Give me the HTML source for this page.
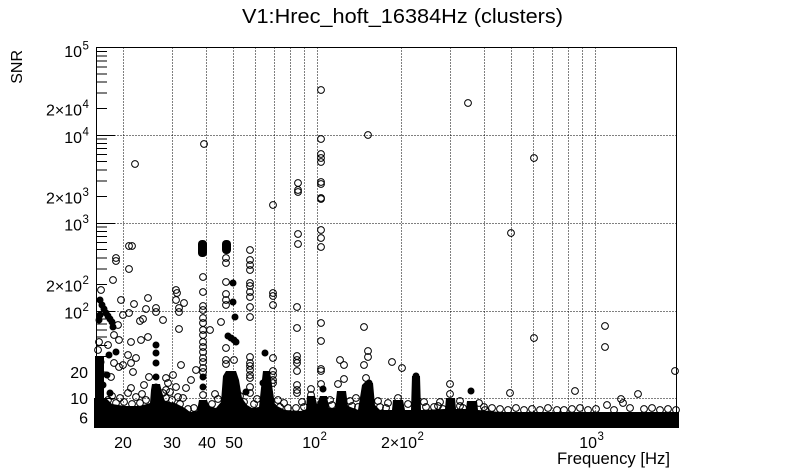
<!DOCTYPE html>
<html><head><meta charset="utf-8"><style>
html,body{margin:0;padding:0;background:#fff;}
svg{display:block;font-family:"Liberation Sans",Arial,sans-serif;}
</style></head><body>
<svg width="805" height="472" viewBox="0 0 805 472" xmlns="http://www.w3.org/2000/svg">
<rect width="805" height="472" fill="#fff"/>
<!-- title -->
<text x="402.5" y="23" font-size="20" text-anchor="middle" textLength="321" lengthAdjust="spacingAndGlyphs">V1:Hrec_hoft_16384Hz (clusters)</text>
<!-- grid -->
<g stroke="#000" stroke-width="1" stroke-dasharray="1 2" fill="none">
<path d="M123.5,47.5V424.5M172.5,47.5V424.5M206.5,47.5V424.5M233.5,47.5V424.5M255.5,47.5V424.5M274.5,47.5V424.5M290.5,47.5V424.5M304.5,47.5V424.5M317.5,47.5V424.5M401.5,47.5V424.5M450.5,47.5V424.5M484.5,47.5V424.5M511.5,47.5V424.5M533.5,47.5V424.5M552.5,47.5V424.5M568.5,47.5V424.5M582.5,47.5V424.5M595.5,47.5V424.5"/>
<path d="M96.5,135.5H676.5M96.5,223.5H676.5M96.5,311.5H676.5M96.5,398.5H676.5"/>
</g>
<!-- dense band and columns -->
<path fill="#000" d="M94,428 L94,398 L106,398 L112,404 L125,406 L140,406 L150,403 L151,390 L152,384 L160,384 L162,392 L165,401 L175,403 L185,408 L190,412 L197,411 L199,400 L207,400 L209,406 L216,408 L221,402 L223,376 L226,371 L236,371 L239,380 L242,398 L247,405 L252,408 L259,407 L261,388 L263,371 L270,371 L272,385 L275,405 L285,410 L300,411 L306,410 L307,396 L315,396 L317,404 L320,396 L327,396 L329,408 L335,408 L337,391 L346,391 L348,406 L358,410 L362,385 L366,381 L373,383 L375,405 L380,410 L392,410 L393,400 L403,400 L405,410 L411,410 L412,376 L420,376 L421,410 L445,409 L446,398 L455,398 L456,409 L466,409 L467,401 L477,401 L478,410 L500,412 L679,412 L679,428 Z"/>
<rect x="95" y="356" width="9" height="44" fill="#000"/>
<rect x="198" y="240" width="9" height="17" rx="4" fill="#000"/>
<rect x="222" y="240" width="9" height="14" rx="4" fill="#000"/>
<!-- filled markers -->
<g fill="#000">
<circle cx="100" cy="300" r="3.5"/><circle cx="102" cy="305" r="3.5"/><circle cx="104" cy="309" r="3.5"/><circle cx="106" cy="313" r="3.5"/><circle cx="108" cy="316" r="3.5"/><circle cx="110" cy="319" r="3.5"/><circle cx="112" cy="322" r="3.5"/><circle cx="113" cy="327" r="3.5"/><circle cx="100" cy="315" r="3.5"/><circle cx="99" cy="320" r="3.5"/>
<circle cx="101" cy="362" r="3.5"/><circle cx="99" cy="373" r="3.5"/><circle cx="107" cy="375" r="3.5"/><circle cx="103" cy="385" r="3.5"/><circle cx="110" cy="393" r="3.5"/><circle cx="116" cy="352" r="3.5"/><circle cx="109" cy="355" r="3.5"/>
<circle cx="156" cy="345" r="3.5"/><circle cx="156" cy="353" r="3.5"/><circle cx="156" cy="363" r="3.5"/><circle cx="156" cy="377" r="3.5"/><circle cx="156" cy="387" r="3.5"/>
<circle cx="233" cy="283" r="3.5"/><circle cx="233" cy="302" r="3.5"/><circle cx="235" cy="317" r="3.5"/><circle cx="228" cy="336" r="3.5"/><circle cx="231" cy="338" r="3.5"/><circle cx="234" cy="340" r="3.5"/><circle cx="236" cy="342" r="3.5"/>
<circle cx="265" cy="353" r="3.5"/><circle cx="323" cy="389" r="3.5"/><circle cx="471" cy="391" r="3.5"/><circle cx="203" cy="387" r="3.5"/><circle cx="203" cy="377" r="3.5"/><circle cx="246" cy="392" r="3.5"/><circle cx="263" cy="383" r="3.5"/><circle cx="416" cy="376" r="3.5"/><circle cx="369" cy="383" r="3.5"/>
</g>
<!-- open markers -->
<g fill="none" stroke="#000" stroke-width="1">
<circle cx="135" cy="164" r="3.4"/><circle cx="204" cy="144" r="3.4"/><circle cx="273" cy="205" r="3.4"/><circle cx="321" cy="90" r="3.4"/><circle cx="368" cy="135" r="3.4"/><circle cx="468" cy="103" r="3.4"/><circle cx="534" cy="158" r="3.4"/><circle cx="511" cy="233" r="3.4"/>
<circle cx="321" cy="139" r="3.4"/><circle cx="321" cy="154" r="3.4"/><circle cx="321" cy="158" r="3.4"/><circle cx="321" cy="162" r="3.4"/><circle cx="321" cy="182" r="3.4"/><circle cx="321" cy="184" r="3.4"/><circle cx="321" cy="198" r="3.4"/><circle cx="321" cy="199" r="3.4"/><circle cx="321" cy="230" r="3.4"/><circle cx="321" cy="238" r="3.4"/><circle cx="321" cy="247" r="3.4"/>
<circle cx="298" cy="183" r="3.4"/><circle cx="298" cy="190" r="3.4"/><circle cx="298" cy="192" r="3.4"/><circle cx="298" cy="234" r="3.4"/><circle cx="298" cy="244" r="3.4"/>
<circle cx="129" cy="246" r="3.4"/><circle cx="132" cy="246" r="3.4"/><circle cx="116" cy="258" r="3.4"/><circle cx="116" cy="261" r="3.4"/><circle cx="129" cy="269" r="3.4"/><circle cx="113" cy="280" r="3.4"/><circle cx="101" cy="290" r="3.4"/>
<circle cx="250" cy="250" r="3.4"/><circle cx="250" cy="260" r="3.4"/><circle cx="250" cy="265" r="3.4"/><circle cx="250" cy="270" r="3.4"/><circle cx="250" cy="283" r="3.4"/><circle cx="250" cy="286" r="3.4"/><circle cx="250" cy="292" r="3.4"/><circle cx="250" cy="297" r="3.4"/><circle cx="250" cy="307" r="3.4"/><circle cx="250" cy="317" r="3.4"/>
<circle cx="226" cy="258" r="3.4"/><circle cx="226" cy="263" r="3.4"/><circle cx="226" cy="282" r="3.4"/><circle cx="226" cy="294" r="3.4"/><circle cx="226" cy="300" r="3.4"/><circle cx="226" cy="305" r="3.4"/>
<circle cx="203" cy="277" r="3.4"/><circle cx="203" cy="292" r="3.4"/><circle cx="203" cy="306" r="3.4"/><circle cx="203" cy="310" r="3.4"/>
<circle cx="273" cy="293" r="3.4"/><circle cx="273" cy="296" r="3.4"/><circle cx="273" cy="305" r="3.4"/>
<circle cx="297" cy="307" r="3.4"/><circle cx="297" cy="328" r="3.4"/><circle cx="297" cy="356" r="3.4"/><circle cx="297" cy="360" r="3.4"/><circle cx="297" cy="363" r="3.4"/><circle cx="297" cy="371" r="3.4"/><circle cx="297" cy="385" r="3.4"/><circle cx="297" cy="390" r="3.4"/><circle cx="297" cy="393" r="3.4"/>
<circle cx="273" cy="358" r="3.4"/><circle cx="273" cy="371" r="3.4"/><circle cx="273" cy="375" r="3.4"/><circle cx="273" cy="380" r="3.4"/><circle cx="273" cy="383" r="3.4"/><circle cx="273" cy="407" r="3.4"/>
<circle cx="321" cy="323" r="3.4"/><circle cx="321" cy="341" r="3.4"/><circle cx="321" cy="369" r="3.4"/><circle cx="321" cy="371" r="3.4"/><circle cx="321" cy="384" r="3.4"/>
<circle cx="311" cy="389" r="3.4"/><circle cx="311" cy="395" r="3.4"/>
<circle cx="340" cy="360" r="3.4"/><circle cx="344" cy="365" r="3.4"/><circle cx="344" cy="379" r="3.4"/><circle cx="338" cy="384" r="3.4"/>
<circle cx="364" cy="327" r="3.4"/><circle cx="368" cy="351" r="3.4"/><circle cx="368" cy="357" r="3.4"/><circle cx="364" cy="365" r="3.4"/><circle cx="366" cy="378" r="3.4"/>
<circle cx="392" cy="362" r="3.4"/><circle cx="402" cy="368" r="3.4"/><circle cx="398" cy="398" r="3.4"/>
<circle cx="450" cy="384" r="3.4"/><circle cx="450" cy="394" r="3.4"/>
<circle cx="479" cy="403" r="3.4"/><circle cx="485" cy="410" r="3.4"/><circle cx="434" cy="407" r="3.4"/><circle cx="443" cy="409" r="3.4"/><circle cx="463" cy="408" r="3.4"/>
<circle cx="510" cy="393" r="3.4"/><circle cx="534" cy="338" r="3.4"/><circle cx="575" cy="391" r="3.4"/><circle cx="605" cy="326" r="3.4"/><circle cx="605" cy="347" r="3.4"/><circle cx="621" cy="399" r="3.4"/><circle cx="623" cy="403" r="3.4"/><circle cx="638" cy="394" r="3.4"/><circle cx="607" cy="405" r="3.4"/><circle cx="675" cy="371" r="3.4"/><circle cx="557" cy="410" r="3.4"/>
<circle cx="121" cy="300" r="3.4"/><circle cx="134" cy="304" r="3.4"/><circle cx="148" cy="298" r="3.4"/><circle cx="156" cy="308" r="3.4"/><circle cx="156" cy="312" r="3.4"/><circle cx="146" cy="309" r="3.4"/><circle cx="123" cy="315" r="3.4"/><circle cx="129" cy="313" r="3.4"/><circle cx="143" cy="319" r="3.4"/><circle cx="140" cy="321" r="3.4"/><circle cx="163" cy="320" r="3.4"/><circle cx="118" cy="325" r="3.4"/>
<circle cx="99" cy="342" r="3.4"/><circle cx="98" cy="350" r="3.4"/><circle cx="114" cy="335" r="3.4"/><circle cx="119" cy="340" r="3.4"/><circle cx="131" cy="342" r="3.4"/><circle cx="141" cy="340" r="3.4"/><circle cx="148" cy="337" r="3.4"/><circle cx="108" cy="345" r="3.4"/><circle cx="128" cy="355" r="3.4"/><circle cx="136" cy="358" r="3.4"/><circle cx="131" cy="363" r="3.4"/><circle cx="114" cy="363" r="3.4"/><circle cx="119" cy="367" r="3.4"/><circle cx="123" cy="365" r="3.4"/><circle cx="111" cy="377" r="3.4"/><circle cx="133" cy="372" r="3.4"/><circle cx="131" cy="388" r="3.4"/><circle cx="144" cy="385" r="3.4"/><circle cx="149" cy="377" r="3.4"/>
<circle cx="166" cy="378" r="3.4"/><circle cx="168" cy="383" r="3.4"/><circle cx="173" cy="375" r="3.4"/><circle cx="163" cy="393" r="3.4"/><circle cx="166" cy="390" r="3.4"/><circle cx="176" cy="387" r="3.4"/><circle cx="178" cy="397" r="3.4"/><circle cx="186" cy="388" r="3.4"/><circle cx="191" cy="380" r="3.4"/><circle cx="196" cy="370" r="3.4"/><circle cx="181" cy="365" r="3.4"/>
<circle cx="176" cy="290" r="3.4"/><circle cx="177" cy="293" r="3.4"/><circle cx="176" cy="300" r="3.4"/><circle cx="184" cy="303" r="3.4"/><circle cx="179" cy="308" r="3.4"/><circle cx="179" cy="312" r="3.4"/><circle cx="179" cy="329" r="3.4"/><circle cx="221" cy="322" r="3.4"/><circle cx="226" cy="348" r="3.4"/><circle cx="234" cy="360" r="3.4"/><circle cx="210" cy="330" r="3.4"/>
<circle cx="203" cy="318" r="3.4"/><circle cx="203" cy="323" r="3.4"/><circle cx="203" cy="330" r="3.4"/><circle cx="203" cy="335" r="3.4"/><circle cx="203" cy="342" r="3.4"/><circle cx="203" cy="347" r="3.4"/><circle cx="203" cy="352" r="3.4"/><circle cx="203" cy="358" r="3.4"/><circle cx="203" cy="362" r="3.4"/><circle cx="203" cy="368" r="3.4"/><circle cx="203" cy="372" r="3.4"/><circle cx="203" cy="395" r="3.4"/>
<circle cx="226" cy="360" r="3.4"/><circle cx="226" cy="364" r="3.4"/>
<circle cx="250" cy="357" r="3.4"/><circle cx="250" cy="363" r="3.4"/><circle cx="250" cy="366" r="3.4"/><circle cx="250" cy="370" r="3.4"/><circle cx="250" cy="375" r="3.4"/><circle cx="250" cy="378" r="3.4"/><circle cx="250" cy="387" r="3.4"/><circle cx="250" cy="393" r="3.4"/>
<circle cx="100" cy="395" r="3.4"/><circle cx="108" cy="400" r="3.4"/><circle cx="116" cy="403" r="3.4"/><circle cx="124" cy="402" r="3.4"/><circle cx="132" cy="404" r="3.4"/><circle cx="140" cy="403" r="3.4"/><circle cx="146" cy="400" r="3.4"/><circle cx="166" cy="398" r="3.4"/><circle cx="172" cy="400" r="3.4"/><circle cx="180" cy="404" r="3.4"/><circle cx="188" cy="409" r="3.4"/><circle cx="194" cy="408" r="3.4"/><circle cx="212" cy="404" r="3.4"/><circle cx="218" cy="399" r="3.4"/><circle cx="244" cy="402" r="3.4"/><circle cx="254" cy="404" r="3.4"/><circle cx="280" cy="407" r="3.4"/><circle cx="288" cy="408" r="3.4"/><circle cx="296" cy="408" r="3.4"/><circle cx="304" cy="407" r="3.4"/><circle cx="332" cy="405" r="3.4"/><circle cx="352" cy="406" r="3.4"/><circle cx="358" cy="407" r="3.4"/><circle cx="380" cy="407" r="3.4"/><circle cx="386" cy="408" r="3.4"/><circle cx="426" cy="407" r="3.4"/><circle cx="438" cy="406" r="3.4"/><circle cx="460" cy="406" r="3.4"/><circle cx="484" cy="407" r="3.4"/><circle cx="492" cy="408" r="3.4"/>
<circle cx="112" cy="396" r="3.4"/><circle cx="120" cy="398" r="3.4"/><circle cx="136" cy="397" r="3.4"/><circle cx="128" cy="393" r="3.4"/><circle cx="142" cy="394" r="3.4"/><circle cx="170" cy="392" r="3.4"/><circle cx="183" cy="398" r="3.4"/><circle cx="215" cy="394" r="3.4"/><circle cx="240" cy="396" r="3.4"/><circle cx="257" cy="399" r="3.4"/><circle cx="278" cy="400" r="3.4"/><circle cx="284" cy="403" r="3.4"/><circle cx="302" cy="402" r="3.4"/><circle cx="330" cy="400" r="3.4"/><circle cx="350" cy="401" r="3.4"/><circle cx="356" cy="398" r="3.4"/><circle cx="378" cy="401" r="3.4"/><circle cx="388" cy="403" r="3.4"/><circle cx="408" cy="404" r="3.4"/><circle cx="424" cy="402" r="3.4"/><circle cx="440" cy="402" r="3.4"/><circle cx="460" cy="401" r="3.4"/>
<circle cx="500" cy="409" r="3.4"/><circle cx="508" cy="410" r="3.4"/><circle cx="516" cy="408" r="3.4"/><circle cx="524" cy="410" r="3.4"/><circle cx="532" cy="409" r="3.4"/><circle cx="540" cy="410" r="3.4"/><circle cx="548" cy="408" r="3.4"/><circle cx="564" cy="410" r="3.4"/><circle cx="572" cy="409" r="3.4"/><circle cx="580" cy="408" r="3.4"/><circle cx="588" cy="410" r="3.4"/><circle cx="596" cy="409" r="3.4"/><circle cx="614" cy="410" r="3.4"/><circle cx="630" cy="408" r="3.4"/><circle cx="644" cy="409" r="3.4"/><circle cx="652" cy="408" r="3.4"/><circle cx="660" cy="410" r="3.4"/><circle cx="668" cy="409" r="3.4"/><circle cx="676" cy="410" r="3.4"/>
</g>
<!-- frame -->
<rect x="96.5" y="47.5" width="580" height="377" fill="none" stroke="#000" stroke-width="1"/>
<!-- y ticks -->
<g stroke="#000" stroke-width="1">
<path d="M96.5,135.5H114.5M96.5,223.5H114.5M96.5,311.5H114.5M96.5,398.5H114.5"/>
<path d="M96.5,51.5H107M96.5,56H107M96.5,61H107M96.5,67H107M96.5,74H107M96.5,82H107M96.5,93H107M96.5,108.5H107
M96.5,139H107M96.5,143.5H107M96.5,148.5H107M96.5,154.5H107M96.5,161.5H107M96.5,170H107M96.5,181H107M96.5,196.5H107
M96.5,227H107M96.5,231.5H107M96.5,236.5H107M96.5,242.5H107M96.5,249.5H107M96.5,258H107M96.5,269H107M96.5,284.5H107
M96.5,314.5H107M96.5,319H107M96.5,324H107M96.5,330H107M96.5,337H107M96.5,345.5H107M96.5,356.5H107M96.5,372H107
M96.5,402.5H107M96.5,407H107M96.5,412H107M96.5,418H107"/>
</g>
<!-- y labels -->
<g font-size="16" fill="#000">
<text x="82" y="57" text-anchor="end">10</text><text x="82.5" y="49.5" font-size="11.5">5</text>
<text x="82" y="115.5" text-anchor="end">2×10</text><text x="82.5" y="108" font-size="11.5">4</text>
<text x="82" y="143" text-anchor="end">10</text><text x="82.5" y="135.5" font-size="11.5">4</text>
<text x="82" y="203.5" text-anchor="end">2×10</text><text x="82.5" y="196" font-size="11.5">3</text>
<text x="82" y="230.5" text-anchor="end">10</text><text x="82.5" y="223" font-size="11.5">3</text>
<text x="82" y="291.5" text-anchor="end">2×10</text><text x="82.5" y="284" font-size="11.5">2</text>
<text x="82" y="318.5" text-anchor="end">10</text><text x="82.5" y="311" font-size="11.5">2</text>
<text x="88" y="378" text-anchor="end">20</text>
<text x="88" y="404" text-anchor="end">10</text>
<text x="88" y="423.5" text-anchor="end">6</text>
</g>
<!-- x labels -->
<g font-size="16" fill="#000">
<text x="123" y="448" text-anchor="middle">20</text>
<text x="172" y="448" text-anchor="middle">30</text>
<text x="207" y="448" text-anchor="middle">40</text>
<text x="234" y="448" text-anchor="middle">50</text>
<text x="320" y="448" text-anchor="end">10</text><text x="320.5" y="440" font-size="11.5">2</text>
<text x="417" y="448" text-anchor="end">2×10</text><text x="417.5" y="440" font-size="11.5">2</text>
<text x="597" y="448" text-anchor="end">10</text><text x="597.5" y="440" font-size="11.5">3</text>
</g>
<!-- axis titles -->
<text x="670" y="464" font-size="16.5" text-anchor="end" textLength="113" lengthAdjust="spacingAndGlyphs">Frequency [Hz]</text>
<text transform="translate(22,50) rotate(-90)" font-size="16" text-anchor="end">SNR</text>
</svg>
</body></html>
